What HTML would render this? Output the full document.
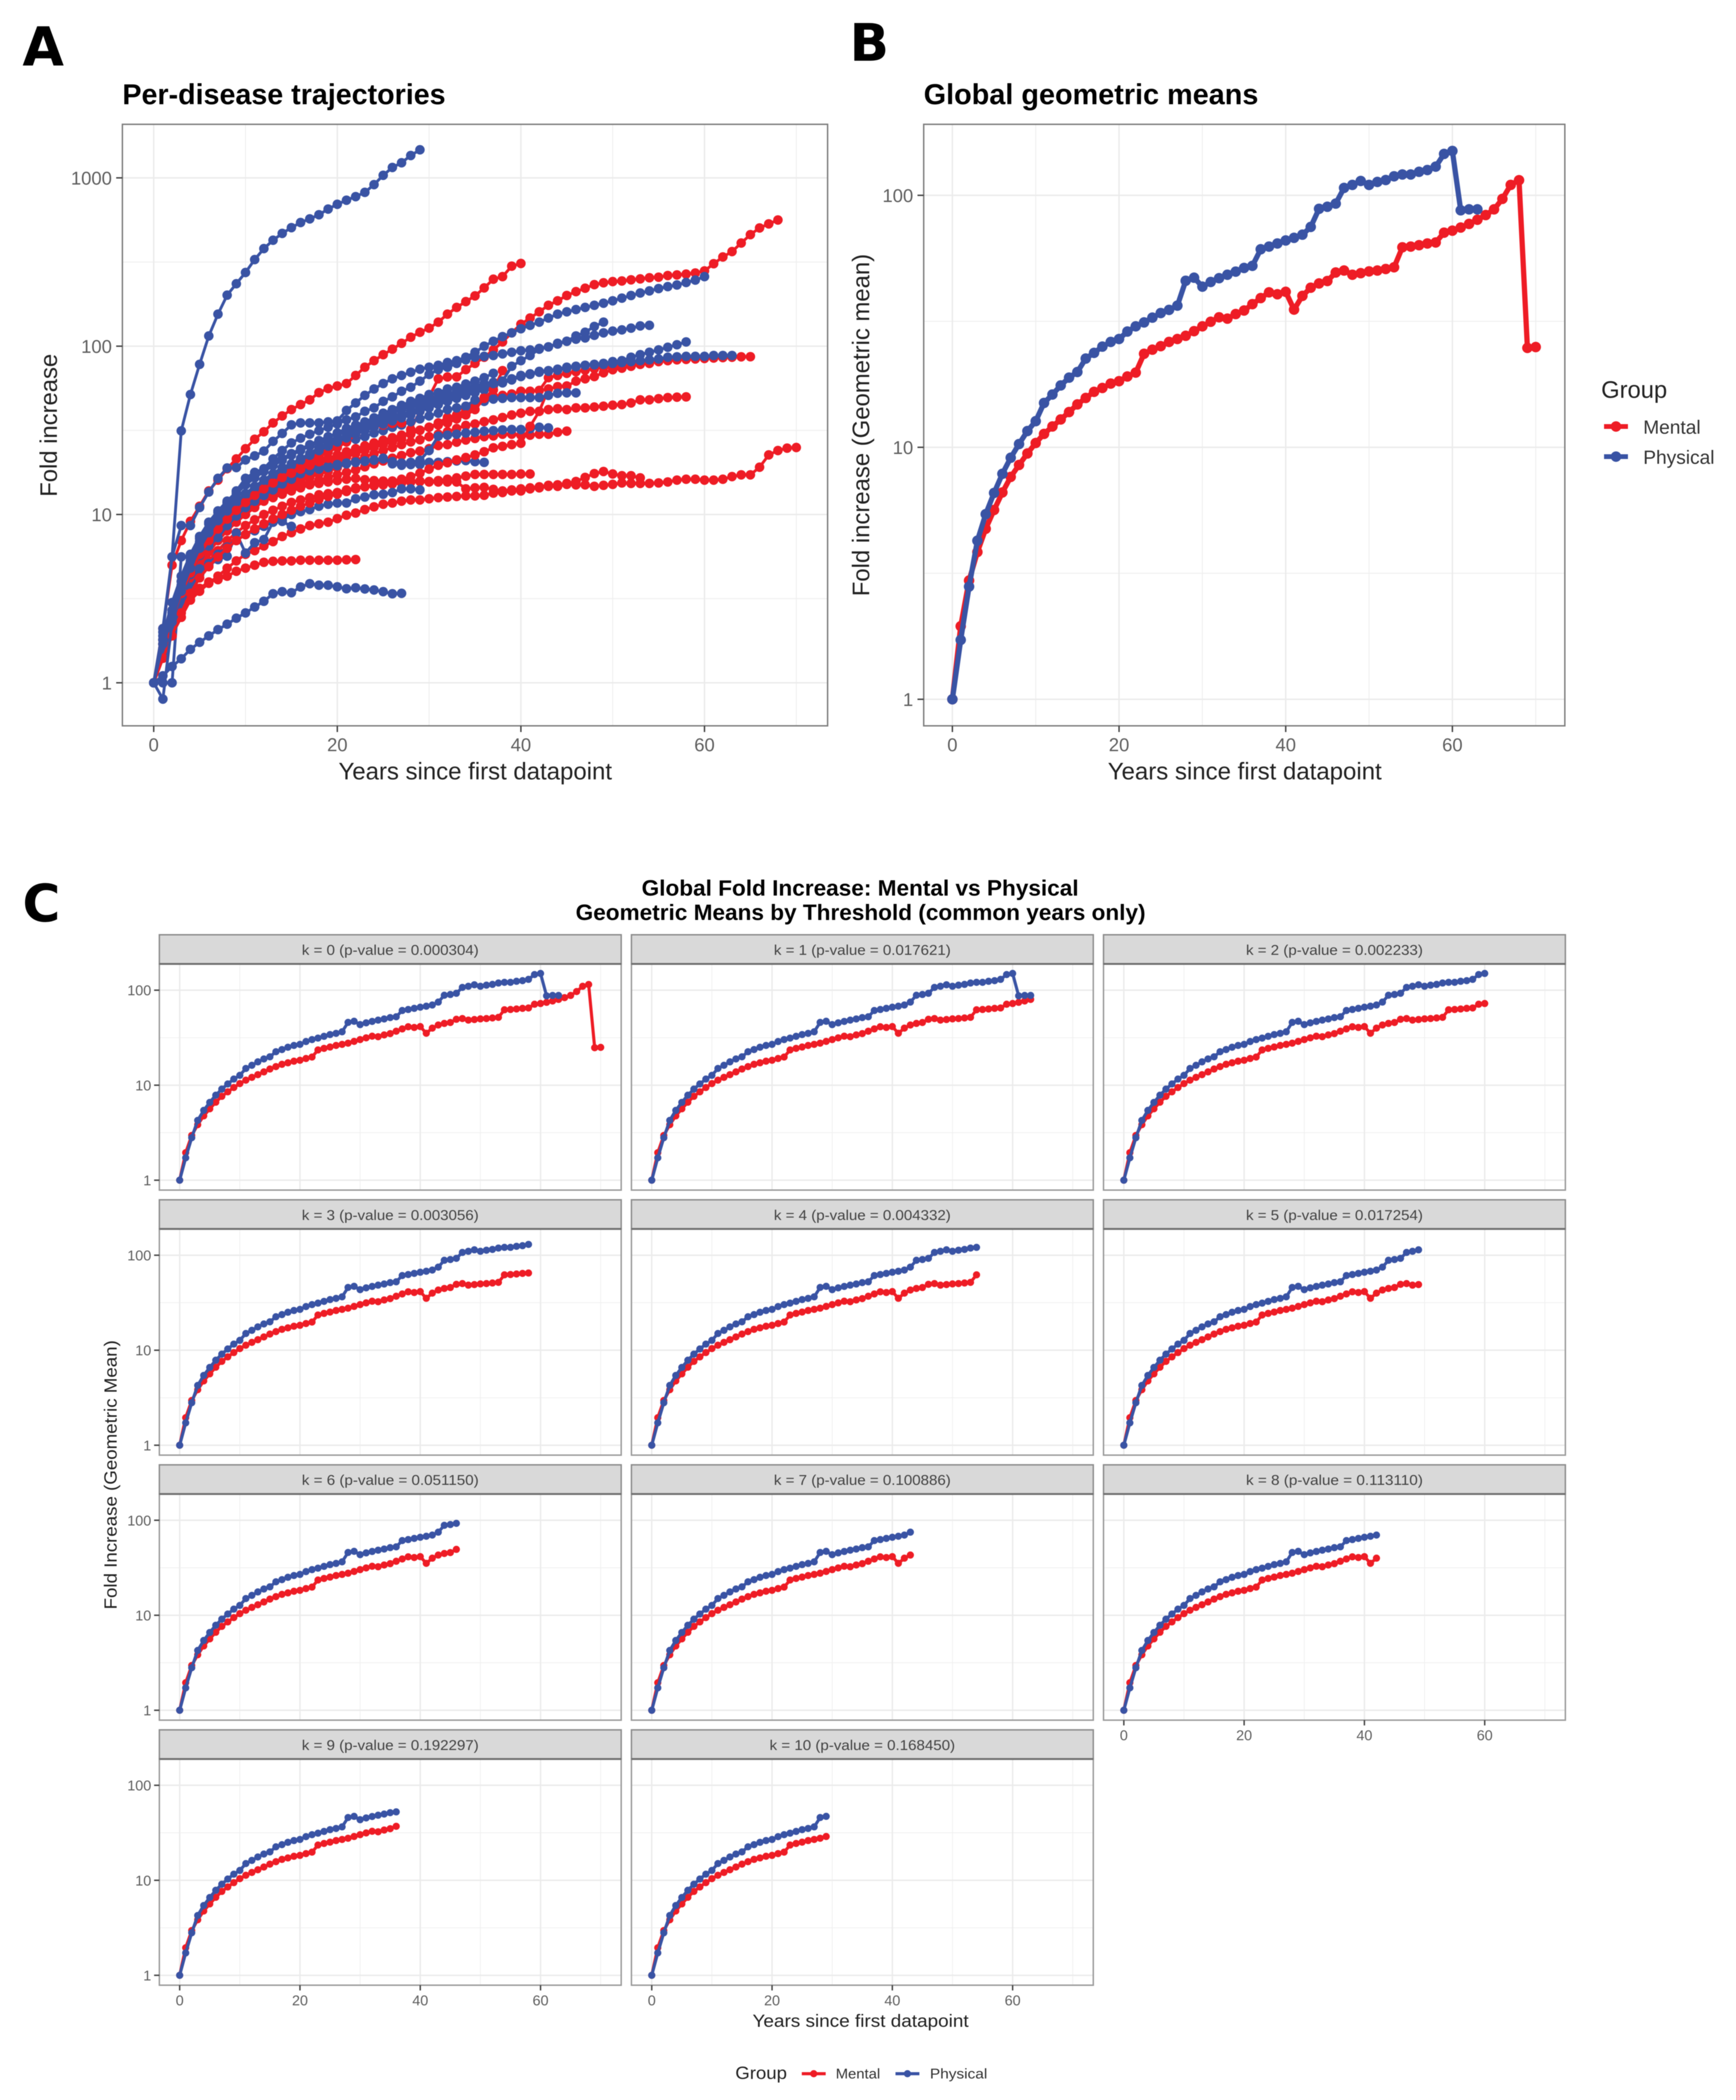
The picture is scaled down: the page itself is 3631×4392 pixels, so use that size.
<!DOCTYPE html>
<html lang="en">
<head>
<meta charset="utf-8">
<title>Fold increase trajectories</title>
<style>
html,body{margin:0;padding:0;background:#fff;}
svg{display:block;filter:blur(0.9px);}
text{font-family:"Liberation Sans",sans-serif;}
.tag{font-family:"DejaVu Sans",sans-serif;font-weight:bold;fill:#000;}
</style>
</head>
<body>
<svg id="chart" xmlns="http://www.w3.org/2000/svg" width="3631" height="4392" viewBox="0 0 3631 4392">
<rect x="0" y="0" width="3631" height="4392" fill="#fff"/>
<text class="tag" x="47" y="137" font-size="112">A</text>
<text class="tag" x="1777" y="127" font-size="108">B</text>
<text class="tag" x="47" y="1927" font-size="108">C</text>
<text x="256" y="218" font-size="60" font-weight="bold" textLength="676" lengthAdjust="spacingAndGlyphs">Per-disease trajectories</text>
<text x="1932" y="218" font-size="60" font-weight="bold" textLength="700" lengthAdjust="spacingAndGlyphs">Global geometric means</text>
<text x="708" y="1630" font-size="50" fill="#222" textLength="572" lengthAdjust="spacingAndGlyphs">Years since first datapoint</text>
<text x="2317" y="1630" font-size="50" fill="#222" textLength="573" lengthAdjust="spacingAndGlyphs">Years since first datapoint</text>
<text transform="translate(119 1039) rotate(-90)" font-size="50" fill="#222" textLength="299" lengthAdjust="spacingAndGlyphs">Fold increase</text>
<text transform="translate(1818 1247) rotate(-90)" font-size="50" fill="#222" textLength="716" lengthAdjust="spacingAndGlyphs">Fold increase (Geometric mean)</text>
<g>
<text x="3349" y="832" font-size="50" fill="#222" textLength="138" lengthAdjust="spacingAndGlyphs">Group</text>
<line x1="3355" x2="3405" y1="892" y2="892" stroke="#EE1C25" stroke-width="10"/>
<circle cx="3380" cy="892" r="11" fill="#EE1C25"/>
<text x="3437" y="907" font-size="40" fill="#333" textLength="120" lengthAdjust="spacingAndGlyphs">Mental</text>
<line x1="3355" x2="3405" y1="955" y2="955" stroke="#3953A4" stroke-width="10"/>
<circle cx="3380" cy="955" r="11" fill="#3953A4"/>
<text x="3437" y="970" font-size="40" fill="#333" textLength="149" lengthAdjust="spacingAndGlyphs">Physical</text>
</g>
<text x="1342" y="1873" font-size="46" font-weight="bold" textLength="914" lengthAdjust="spacingAndGlyphs">Global Fold Increase: Mental vs Physical</text>
<text x="1204" y="1924" font-size="46" font-weight="bold" textLength="1192" lengthAdjust="spacingAndGlyphs">Geometric Means by Threshold (common years only)</text>
<text x="1574" y="4239" font-size="37" fill="#222" textLength="452" lengthAdjust="spacingAndGlyphs">Years since first datapoint</text>
<text transform="translate(244 3366) rotate(-90)" font-size="37" fill="#222" textLength="563" lengthAdjust="spacingAndGlyphs">Fold Increase (Geometric Mean)</text>
<g>
<text x="1538" y="4348" font-size="37" fill="#222" textLength="108" lengthAdjust="spacingAndGlyphs">Group</text>
<line x1="1677" x2="1727" y1="4337" y2="4337" stroke="#EE1C25" stroke-width="6.5"/>
<circle cx="1702" cy="4337" r="7.5" fill="#EE1C25"/>
<text x="1748" y="4347" font-size="30" fill="#333" textLength="93" lengthAdjust="spacingAndGlyphs">Mental</text>
<line x1="1873" x2="1923" y1="4337" y2="4337" stroke="#3953A4" stroke-width="6.5"/>
<circle cx="1898" cy="4337" r="7.5" fill="#3953A4"/>
<text x="1945" y="4347" font-size="30" fill="#333" textLength="120" lengthAdjust="spacingAndGlyphs">Physical</text>
</g>
</svg>
<script>
/* ---------- Panel B / C data: global geometric means by year ---------- */
const mentalMeans = [1,1.95,2.96,3.84,4.75,5.64,6.62,7.63,8.51,9.45,10.4,11.3,12.1,12.9,13.8,14.8,15.7,16.6,17.2,17.9,18.3,19.1,19.8,23.5,24.4,25.2,26.2,26.9,27.7,28.9,30.2,31.5,32.8,32.4,33.8,34.9,37,39.1,41.2,40.5,41.4,35.2,39.9,43,44.7,45.7,49.4,50.3,48.4,49.1,49.9,50.3,51,51.8,62.2,62.6,63.4,64.4,65,71.1,72.4,74.5,77,80,83.5,88,96.8,110,114.8,24.8,25];
const physicalMeans = [1,1.72,2.8,4.26,5.43,6.59,7.85,9.09,10.3,11.6,12.7,15,16.2,17.6,18.9,19.9,22.5,23.7,25.1,26.2,26.9,28.8,30.2,31.3,32.7,34.1,35.1,36.5,45.8,47.1,43.4,45.3,46.9,48.4,49.8,51.5,52.5,61.1,62.6,64.4,66.2,67.8,69.8,74.9,88.4,90.1,92.7,107,110,114,110,113,115,119,121,121,124,126,130,146,150,87.2,88,88];

/* ---------- Panel C facet data ---------- */
const facetK = [0,1,2,3,4,5,6,7,8,9,10];
const facetPValues = ["0.000304","0.017621","0.002233","0.003056","0.004332","0.017254","0.051150","0.100886","0.113110","0.192297","0.168450"];
const facetMentalLastYear = [70,63,60,58,54,49,46,43,42,36,29];
const facetPhysicalLastYear = [63,63,60,58,54,49,46,43,42,36,29];

/* ---------- Axis ticks ---------- */
const xTickLabels = [0,20,40,60];
const xMinorBreaks = [10,30,50,70];
const yTicksA = [1,10,100,1000];
const yMinorA = [3.162,31.62,316.2];
const yTicksB = [1,10,100];
const yMinorB = [3.162,31.62];

/* ---------- Panel A data: one fold-increase series per disease, indexed by year ---------- */
const physicalA = [1,2.1,5.6,31.4,51.6,78,115,155,201,235,274,327,380,426,468,506,543,571,604,653,697,737,774,820,912,1036,1153,1230,1358,1468];
const physicalB = [1,1.1,1.25,1.39,1.58,1.74,1.9,2.07,2.23,2.42,2.6,2.82,3.05,3.38,3.48,3.43,3.71,3.88,3.8,3.8,3.72,3.62,3.67,3.61,3.56,3.48,3.38,3.4];
const physicalC = [1,2,5.6,8.6,8.6,11,13.6,16.4,18.9,19,21.1,22.3,23.8,27.2,30.3,34.1,35,35,35,35.5,36,41.5,46,51,55.7,60,64,67,70,73,75,77,80,82,86,92,100,107,114,120,127,133,139,147,155,160,165,170,175,180,186,193,200,207,213,220,226,231,239,247,259];
const physicalD = [1,1.8,2.6,3.8,5.3,6.9,8.1,9.7,11.7,13.8,16.4,17.8,18.7,21.4,24,26.6,28.4,30,31.5,33,34.5,36.5,38,41,43,47,50,54,57,62,68,72.6,75,79,83,86,87,88,90,92,94,95,97,99,104,107,110,112,116,120,123,125,128,132,133];
const physicalE = [1,1.7,2.4,3.5,4.8,6.3,7.8,9.2,10.5,12,13.3,14.7,16,17.4,18.7,20,21.5,23,25,26.5,28,30,31.5,33,34.5,36,37.5,39,41,43,45,47,49,51,53,55,57.5,60,62,76,82,88,96,99,103,107,115,121,131,139];
const physicalF = [1,1.7,2.5,3.6,4.9,6.4,7.6,9,10.2,11.6,13,14.4,15.6,17,18.3,19.6,21,22.5,24,25.5,27,28.5,30,31.5,33,34.5,36,37.5,39,41,43,45,47,49,51,53,55,58,60.5,63,66,68,70,71,72,74,75.5,77,78,79,81,82,86,89,92,95,98.5,102,106];
const physicalG = [1,1.9,3,4.3,5.8,7.4,9,10.5,12,13.6,15,16.8,18.5,20,21.5,23,24.5,26,27.5,29,30.5,32,33.5,35,36.5,38,40,42,44,46,48,50,52,54,56,58,60,61,62,64,67,68.5,70.8,71.6,73,75,76,77,77.5,78,79,80,81,82,83,84,86,86.5,87,87,87,88,88,88];
const physicalH = [1,0.8,2.3,3.3,4.6,6,7.5,8.8,10,11.5,13,14.5,16,17.5,19,20,21,22,23,24,25.5,27,28,29,30.5,31.5,33,34,35.6,37,38.5,40,42,43,44,47.9,47,48.5,49,49.5,49.5,49.5,49.5,51,52.5,52.8,52.8];
const physicalI = [1,1.8,2.7,4,5.5,7.2,8.8,10.3,11.8,13.3,15,16.5,18,19.5,21,22.5,24,25.5,27,28.5,30.5,32.5,34,35.5,37.5,40,42,44.5,47,49,51.6,53,55.7,57,59.6,62,65,69];
const physicalJ = [1,1.6,2.3,3.3,4.5,5.7,7,8.2,9.3,10.5,11.7,12.6,13.3,14.3,15.5,16.5,17.6,18.4,18.9,19.3,19.8,20.2,20.5,20.8,21.1,21.4,20.6,20.2,20.4,21,24,29.2,29.6,30,30.5,30.8,31.3,31.5,31.8,32,32,32.3,33,32.7];
const physicalK = [1,1,1,5.6,5.6,6,6.5,7.3,8.6,9.8,11,12,13,14,15.2,16.2,17.5,18.2,18.6,19,19.5,20,20.4,20.7,21,21.6,20,19.6,19.8,19.8,20.4,20.4,20.6,20.8,20.9,20.6,20.4];
const physicalL = [1,1.5,2.1,2.9,3.7,4.4,5.1,5.8,6.4,7,7.6,8,8.5,9,9.3,10,10.4,10.7,11.2,11.5,11.7,11.7,12.4,12.7,13.1,13.2,13.5,14.2,14.2,14];
const physicalM = [1,1.4,2.1,3.2,4.4,4.75,5,5.4,5.65,7.75,5.9,6.8,7.1,9,9.1,8.5];

const mentalA = [1,1.6,2.3,3.2,4.2,5.3,6.5,7.6,8.6,9.6,10.5,11.5,12.5,13.5,14.5,15.5,16.5,17.5,18.5,19.5,20.5,22,23,24,25,26,27,28,32,41,50,64,65.6,65.7,72.6,79,86,95,106,120,135,147,160,175,186,200,211,221,232,238,242,244,248,251,255,257,263,265,268,272,280,309,339,365,410,460,504,533,562];
const mentalB = [1,2.1,5,7,9.1,11.2,13.8,16,18.7,21.4,24.6,28,31,35,38.5,42,45,48,53,56,58,60,67,75,82,89,96,104,113,121,128,139,155,170,184,199,222,250,259,299,310];
const mentalC = [1,1.6,2.2,3.2,4.4,5.6,6.8,7.9,9,10.2,11.4,12.6,13.8,15,16,17,18,19,20,21,22,23,24,25,26,27,28,29,30,31.7,33,35,37.7,39,42,44.8,49.6,50.5,51,52,54,54,54.6,65,67,69,70.5,72,73.5,75,76,77,78,79,80,81,82,83,83.5,84,84.5,85,85.5,86,86.5,86.6];
const mentalD = [1,1.5,2.1,3,4,5,6.2,7.2,8.3,9.4,10.5,11.5,12.5,13.4,14.2,15,15.8,16.6,17.4,18,19,20,21,22,23,24,25,26,27,27.8,29,30,31,32.4,33.8,34.5,35.6,36.5,37.7,39,40,41,41,42,42.5,42,43,43,43.5,44,44.6,45,46,48,48,48.8,49.5,49.8,50];
const mentalE = [1,1.5,2.1,3,3.9,4.9,6,7,8,9,10,11,12,12.8,13.5,14.2,14.8,15.4,16,16.6,17.2,17.8,18.4,19.2,20,20.8,21.6,22.4,23.3,23.8,24.6,25.7,26,26.9,27.7,28.3,29,29.3,30,30,29.6,29.6,30,30,30.8,31.3];
const mentalF = [1,1.4,1.9,2.6,3.4,4.2,4.9,5.6,6.3,7,7.6,8.2,8.8,9.4,10,10.6,11.2,11.7,12.3,12.8,13.2,13.7,14.2,14.6,15,15.4,15.8,16.2,16.8,17.6,18.6,19.6,20.3,21.1,21.8,22.6,23.6,24.9,25.4,26,26.5,33.4,41,55.7,57.5,58,62,64,66,69.5,72.5,74,76,78,79];
const mentalG = [1,1.45,1.94,2.45,3.1,3.5,3.9,4.3,4.8,5.3,5.8,6.1,6.5,6.9,7.4,7.8,8.2,8.6,8.8,9,9.45,9.9,10.2,10.7,11.1,11.5,11.7,12,12.2,12.2,12.4,12.6,12.7,12.8,12.9,12.9,13,13.4,13.5,13.8,13.8,14.2,14.4,14.7,14.7,15.1,15,15,14.7,14.9,15.1,15.4,15.3,15.3,15.3,15.4,15.6,16,16.2,16.2,16,16,16.2,16.8,17.2,17.2,19.1,22.6,24,24.8,25];
const mentalH = [1,1.4,1.94,2.45,3.24,3.64,3.97,4.1,4.3,4.6,4.8,5,5.2,5.27,5.3,5.3,5.35,5.35,5.35,5.35,5.35,5.38,5.4];
const mentalI = [1,1.5,2.1,2.8,3.6,4.5,5.3,6.1,7,7.8,8.6,9.3,10,10.6,11.2,11.8,12.2,12.6,13.1,13.3,13.5,14,14.4,14.6,14.8,15,15.2,15.4,15.6,15.7,15.6,15.9,16.2,16.5,16.9,17.3,17.3,17.3,17.3,17.3,17.4,17.4];
const mentalJ = [1,1.6,2.2,3.1,4.1,5.2,6.3,7.3,8.4,9.5,10.5,11.3,12,12.6,13.2,13.8,14.4,15,15.3,15.6,15.9,16.2,16.4,16.1,15.9,15.8,15.8,15.8,15.8,15.8,15.7,15.6,15.6,15.6,14.2,14.4,14.5,14.1,13.8,14,14.2,14.4,14.6,14.9,15,15.3,15.7,16.6,17.5,18,17.4,17,17,16.5];
const mentalK = [1,1.8,2.5,3.5,4.7,6,7.3,8.7,9.9,11.2,12.5,13.8,15,16.3,17.5,18.5,19.8,21,22,23.5,25,27,30,32,33,34,34.8,35];
const mentalL = [1,1.7,2.4,3.4,4.5,5.8,7,8.2,9.4,10.6,11.8,13,14.2,15.4,16.6,17.6,18.6,19.6,20.6,21.6,22.6,23.6,24.6,25.6,26.6,27.6,28.6,29.6,30.6,31.6,33,34,35,37,39,42,49,55,71.6];

const RED = "#EE1C25";
const BLUE = "#3953A4";
const SVG_NS = "http://www.w3.org/2000/svg";
const root = document.getElementById("chart");

/* Draw order for panel A: [values, colour, name] */
const trajectoryOrder = [
  [mentalG,RED,"mental-g"],[mentalH,RED,"mental-h"],[mentalI,RED,"mental-i"],[mentalJ,RED,"mental-j"],
  [mentalD,RED,"mental-d"],[mentalE,RED,"mental-e"],[mentalC,RED,"mental-c"],[mentalA,RED,"mental-a"],[mentalB,RED,"mental-b"],
  [physicalA,BLUE,"physical-a"],[physicalB,BLUE,"physical-b"],[physicalJ,BLUE,"physical-j"],[physicalK,BLUE,"physical-k"],
  [physicalL,BLUE,"physical-l"],[physicalM,BLUE,"physical-m"],[mentalF,RED,"mental-f"],[physicalH,BLUE,"physical-h"],
  [mentalK,RED,"mental-k"],[physicalF,BLUE,"physical-f"],[physicalG,BLUE,"physical-g"],[mentalL,RED,"mental-l"],
  [physicalE,BLUE,"physical-e"],[physicalI,BLUE,"physical-i"],[physicalD,BLUE,"physical-d"],[physicalC,BLUE,"physical-c"]
];

function make(tag, props, parent) {
  const el = document.createElementNS(SVG_NS, tag);
  for (const key in props) el.setAttribute(key, props[key]);
  parent.appendChild(el);
  return el;
}

function linearAxis(origin, pxPerYear) { return function (year) { return origin + pxPerYear * year; }; }
function logAxis(oneAt, pxPerDecade) { return function (value) { return oneAt - pxPerDecade * Math.log10(value); }; }

function drawGrid(box, xScale, yScale, yMajor, yMinor, parent, majorW, minorW) {
  const grid = make("g", {}, parent);
  
  
  xMinorBreaks.forEach(function (b) {
    const l = make("line", {x1: xScale(b), x2: xScale(b), y1: box.top, y2: box.bottom, stroke: "#EFEFEF", "stroke-width": minorW}, grid);
    
    
  });
  yMinor.forEach(function (b) {
    const l = make("line", {x1: box.left, x2: box.right, y1: yScale(b), y2: yScale(b), stroke: "#EFEFEF", "stroke-width": minorW}, grid);
    
    
  });
  xTickLabels.forEach(function (b) {
    const l = make("line", {x1: xScale(b), x2: xScale(b), y1: box.top, y2: box.bottom, stroke: "#EBEBEB", "stroke-width": majorW}, grid);
    
    
  });
  yMajor.forEach(function (b) {
    const l = make("line", {x1: box.left, x2: box.right, y1: yScale(b), y2: yScale(b), stroke: "#EBEBEB", "stroke-width": majorW}, grid);
    
    
  });
}

function drawXAxis(box, xScale, parent, style) {
  xTickLabels.forEach(function (b) {
    const t = make("line", {x1: xScale(b), x2: xScale(b), y1: box.bottom, y2: box.bottom + style.tick, stroke: "#444", "stroke-width": style.tickW}, parent);
    
    
    const label = make("text", {x: xScale(b), y: box.bottom + style.labelOffset, "text-anchor": "middle", "font-size": style.font, fill: "#5f5f5f"}, parent);
    label.textContent = String(b);
    
    
  });
}

function drawYAxis(box, yScale, ticks, parent, style) {
  ticks.forEach(function (b) {
    const t = make("line", {x1: box.left - style.tick, x2: box.left, y1: yScale(b), y2: yScale(b), stroke: "#444", "stroke-width": style.tickW}, parent);
    
    
    const label = make("text", {x: box.left - style.tick - style.gap, y: yScale(b) + style.font * 0.36, "text-anchor": "end", "font-size": style.font, fill: "#5f5f5f"}, parent);
    label.textContent = String(b);
    
    
  });
}

function drawSeries(values, lastYear, colour, xScale, yScale, parent, lineW, radius, name) {
  const group = make("g", {}, parent);
  
  
  const shown = values.slice(0, lastYear + 1);
  const pts = shown.map(function (v, i) { return xScale(i).toFixed(1) + "," + yScale(v).toFixed(1); }).join(" ");
  const line = make("polyline", {points: pts, fill: "none", stroke: colour, "stroke-width": lineW, "stroke-linejoin": "round"}, group);
  
  
  shown.forEach(function (v, i) {
    const dot = make("circle", {cx: xScale(i).toFixed(1), cy: yScale(v).toFixed(1), r: radius, fill: colour}, group);
    
    
  });
}

function drawBorder(box, parent, colour, width) {
  const r = make("rect", {x: box.left, y: box.top, width: box.right - box.left, height: box.bottom - box.top, fill: "none", stroke: colour, "stroke-width": width}, parent);
  
  
}

/* Panel A */
(function () {
  const box = {left: 256, right: 1731, top: 260, bottom: 1518};
  const xScale = linearAxis(321.5, 19.2);
  const yScale = logAxis(1428, 352);
  const panel = make("g", {}, root);
  
  
  drawGrid(box, xScale, yScale, yTicksA, yMinorA, panel, 3, 2);
  trajectoryOrder.forEach(function (s) {
    drawSeries(s[0], s[0].length - 1, s[1], xScale, yScale, panel, 6, 10, s[2]);
  });
  drawBorder(box, panel, "#7f7f7f", 3);
  const axisStyle = {tick: 13, tickW: 3, gap: 9, font: 38.5, labelOffset: 53};
  drawXAxis(box, xScale, panel, axisStyle);
  drawYAxis(box, yScale, yTicksA, panel, axisStyle);
})();

/* Panel B */
(function () {
  const box = {left: 1932, right: 3273, top: 260, bottom: 1518};
  const xScale = linearAxis(1992, 17.43);
  const yScale = logAxis(1462.5, 527);
  const panel = make("g", {}, root);
  
  
  drawGrid(box, xScale, yScale, yTicksB, yMinorB, panel, 3, 2);
  drawSeries(mentalMeans, mentalMeans.length - 1, RED, xScale, yScale, panel, 11, 11, "mental");
  drawSeries(physicalMeans, physicalMeans.length - 1, BLUE, xScale, yScale, panel, 11, 11, "physical");
  drawBorder(box, panel, "#7f7f7f", 3);
  const axisStyle = {tick: 13, tickW: 3, gap: 9, font: 38.5, labelOffset: 53};
  drawXAxis(box, xScale, panel, axisStyle);
  drawYAxis(box, yScale, yTicksB, panel, axisStyle);
})();

/* Panel C facets */
facetK.forEach(function (k, index) {
  const col = index % 3;
  const row = Math.floor(index / 3);
  const left = 333.3 + col * 987.4;
  const stripTop = 1955 + row * 554.3;
  const box = {left: left, right: left + 966, top: stripTop + 61, bottom: stripTop + 534};
  const xScale = linearAxis(left + 42.5, 12.58);
  const yScale = logAxis(stripTop + 513.3, 198.7);
  const panel = make("g", {}, root);
  
  
  drawGrid(box, xScale, yScale, yTicksB, yMinorB, panel, 3, 1.5);
  drawSeries(mentalMeans, facetMentalLastYear[index], RED, xScale, yScale, panel, 6.5, 7.5, "mental-k" + k);
  drawSeries(physicalMeans, facetPhysicalLastYear[index], BLUE, xScale, yScale, panel, 6.5, 7.5, "physical-k" + k);
  drawBorder(box, panel, "#9a9a9a", 3);
  const strip = make("rect", {x: box.left, y: stripTop, width: 966, height: 61, fill: "#D9D9D9", stroke: "#8c8c8c", "stroke-width": 3}, panel);
  
  
  const stripRule = make("line", {x1: box.left, x2: box.right, y1: stripTop + 61, y2: stripTop + 61, stroke: "#6f6f6f", "stroke-width": 4}, panel);
  
  
  const label = make("text", {x: box.left + 483, y: stripTop + 42, "text-anchor": "middle", "font-size": 30, fill: "#444", textLength: k === 10 ? 388 : 370, lengthAdjust: "spacingAndGlyphs"}, panel);
  label.textContent = "k = " + k + " (p-value = " + facetPValues[index] + ")";
  
  
  const axisStyle = {tick: 11, tickW: 3, gap: 6, font: 30, labelOffset: 42};
  if (col === 0) drawYAxis(box, yScale, yTicksB, panel, axisStyle);
  if (index >= 8) drawXAxis(box, xScale, panel, axisStyle);
});
</script>
</body>
</html>
